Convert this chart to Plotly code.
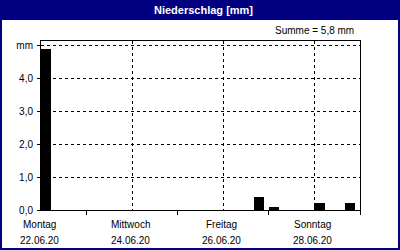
import plotly.graph_objects as go

# ---- data ----
bar_start = ["2020-06-22 00:00", "2020-06-26 16:00", "2020-06-27 00:00",
             "2020-06-28 00:00", "2020-06-28 16:00"]
rain_mm = [4.9, 0.4, 0.1, 0.2, 0.2]
label_days = ["2020-06-22", "2020-06-24", "2020-06-26", "2020-06-28"]
day_names = ["Montag", "Mittwoch", "Freitag", "Sonntag"]
date_labels = ["22.06.20", "24.06.20", "26.06.20", "28.06.20"]
y_tickvals = [0, 1, 2, 3, 4, 5]
y_ticktext = ["0,0", "1,0", "2,0", "3,0", "4,0", "mm"]
title_text = "Niederschlag [mm]"
sum_text = "Summe = 5,8 mm"

W, H = 400, 250
L, R, T, B = 41, 40, 41, 40
NAVY = "#000080"
FONT = "Liberation Sans"


def pxx(p):
    return (p - L) / (W - L - R)


def pxy(p):
    return (H - B - p) / (H - T - B)


bar_width_ms = 5.5 * 3600 * 1000

fig = go.Figure()
fig.add_trace(go.Bar(x=bar_start, y=rain_mm, width=[bar_width_ms] * len(rain_mm),
                     offset=0, marker=dict(color="black", line=dict(width=0))))

fig.update_layout(
    width=W, height=H,
    margin=dict(l=L, r=R, t=T, b=B, pad=0),
    paper_bgcolor="white", plot_bgcolor="white",
    showlegend=False,
    font=dict(family=FONT, size=10, color="black"),
    bargap=0,
)

fig.update_xaxes(
    type="date",
    range=["2020-06-22 00:00", "2020-06-29 00:00"],
    tickmode="array", tickvals=label_days, ticktext=[""] * len(label_days),
    ticks="", showgrid=True, gridcolor="black", gridwidth=1, griddash="3px,3px",
    showline=True, linecolor="black", linewidth=1, mirror=True,
    minor=dict(ticks="outside", ticklen=4, tickcolor="black", tickwidth=1,
               tick0="2020-06-23", dtick=2 * 86400000, showgrid=False),
    fixedrange=True,
)
fig.update_yaxes(
    range=[0, 5.15],
    tickmode="array", tickvals=y_tickvals, ticktext=y_ticktext,
    ticks="outside", ticklen=3, tickcolor="black", ticklabelstandoff=2,
    showgrid=True, gridcolor="black", gridwidth=1, griddash="3px,3px",
    showline=True, linecolor="black", linewidth=1, mirror=True,
    zeroline=False, tickfont=dict(family=FONT, size=10),
    fixedrange=True,
)

shapes = [
    dict(type="rect", xref="paper", yref="paper",
         x0=pxx(0), x1=pxx(W), y0=pxy(20), y1=pxy(0),
         fillcolor=NAVY, line=dict(width=0), layer="above"),
    dict(type="rect", xref="paper", yref="paper",
         x0=pxx(1), x1=pxx(W - 1), y0=pxy(H - 1), y1=pxy(1),
         fillcolor="rgba(0,0,0,0)", line=dict(color=NAVY, width=2), layer="above"),
]
fig.update_layout(shapes=shapes)

ann = [
    dict(text="<b>" + title_text + "</b>", xref="paper", yref="paper",
         x=pxx(203), y=pxy(10), xanchor="center", yanchor="middle",
         showarrow=False, font=dict(family=FONT, size=11, color="white")),
    dict(text=sum_text, xref="paper", yref="paper",
         x=pxx(356), y=pxy(31), xanchor="right", yanchor="middle",
         showarrow=False, font=dict(family=FONT, size=10, color="black")),
]
for d, n, dl in zip(label_days, day_names, date_labels):
    ann.append(dict(text=n, x=d, xref="x", yref="paper", y=pxy(224),
                    xanchor="center", yanchor="middle", xshift=-2, showarrow=False,
                    font=dict(family=FONT, size=10)))
    ann.append(dict(text=dl, x=d, xref="x", yref="paper", y=pxy(240),
                    xanchor="center", yanchor="middle", xshift=-2, showarrow=False,
                    font=dict(family=FONT, size=10)))
fig.update_layout(annotations=ann)

fig.write_html("out.html")
